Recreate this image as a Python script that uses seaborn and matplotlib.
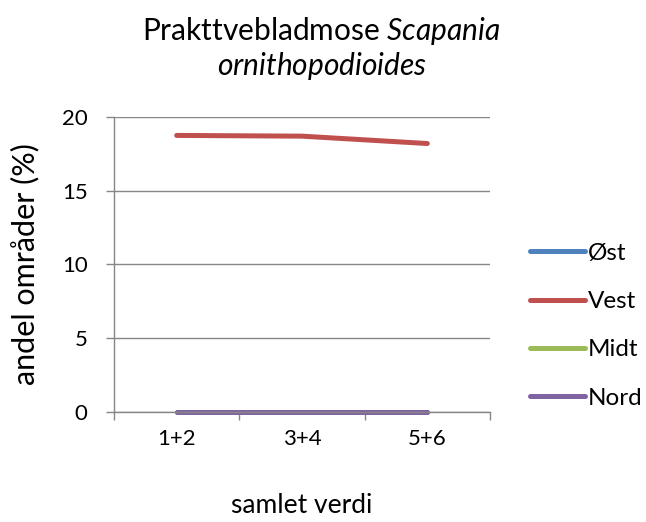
import matplotlib
matplotlib.use("Agg")
import matplotlib.pyplot as plt
import pandas as pd
import seaborn as sns

# data
categories = ["1+2", "3+4", "5+6"]
ost = [0, 0, 0]
vest = [18.75, 18.7, 18.2]
midt = [0, 0, 0]
nord = [0, 0, 0]
series_names = ["Øst", "Vest", "Midt", "Nord"]
colors = ["#4F81BD", "#C0504D", "#9BBB59", "#8064A2"]
yticks = [0, 5, 10, 15, 20]

sns.set_style("white")
plt.rcParams["font.family"] = ["Lato", "DejaVu Sans"]
plt.rcParams["mathtext.fontset"] = "custom"
plt.rcParams["mathtext.rm"] = "Lato"
plt.rcParams["mathtext.it"] = "Lato:italic"
plt.rcParams["text.color"] = "black"
plt.rcParams["axes.labelcolor"] = "black"
plt.rcParams["xtick.color"] = "black"
plt.rcParams["ytick.color"] = "black"

rows = []
for name, vals in zip(series_names, [ost, vest, midt, nord]):
    for i, v in enumerate(vals):
        rows.append({"pos": i, "cat": categories[i], "serie": name, "verdi": v})
df = pd.DataFrame(rows)

fig = plt.figure(figsize=(6.46, 5.22), dpi=100)
ax = fig.add_axes([0.1765, 0.2107, 0.5820, 0.5652])

sns.lineplot(data=df, x="pos", y="verdi", hue="serie", hue_order=series_names,
             palette=colors, linewidth=3.6, ax=ax, legend=True,
             solid_capstyle="round")
for line in ax.get_lines():
    line.set_clip_on(False)

ax.set_xlim(-0.5, 2.5)
ax.set_ylim(0, 20)
ax.set_yticks(yticks)
ax.set_xticks(range(len(categories)))
ax.set_xticklabels(categories)
ax.set_xticks([-0.5, 0.5, 1.5, 2.5], minor=True)
ax.tick_params(axis="x", which="major", bottom=True, length=0, pad=12, labelsize=16)
ax.tick_params(axis="x", which="minor", bottom=True, length=6, width=1,
               color="#868686", direction="out")
ax.tick_params(axis="y", left=True, length=6, width=1, color="#868686",
               direction="out", labelsize=16, pad=13)
ax.yaxis.grid(True, color="#868686", linewidth=1)
ax.set_axisbelow(True)
for s in ["top", "right"]:
    ax.spines[s].set_visible(False)
for s in ["left", "bottom"]:
    ax.spines[s].set_color("#868686")
    ax.spines[s].set_linewidth(1)

ax.set_xlabel("samlet verdi", fontsize=19, labelpad=32)
ax.set_ylabel("andel områder (%)", fontsize=22, labelpad=16)
ax.set_title("Prakttvebladmose $\\mathit{Scapania}$\n$\\mathit{ornithopodioides}$",
             fontsize=21.5, pad=30, linespacing=1.15, x=0.552)

handles, labels = ax.get_legend_handles_labels()
leg = ax.legend(handles, labels, loc="center left", bbox_to_anchor=(0.82, 0.376),
                bbox_transform=fig.transFigure, frameon=False, fontsize=17.5,
                handlelength=2.26, handletextpad=0.12, labelspacing=1.12,
                borderpad=0, borderaxespad=0)
for line in leg.get_lines():
    line.set_linewidth(3.6)
    line.set_solid_capstyle("round")

fig.savefig("out.png", dpi=100)
